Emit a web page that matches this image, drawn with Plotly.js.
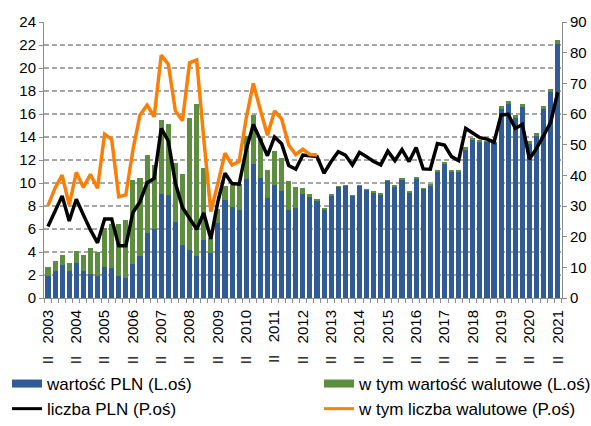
<!DOCTYPE html>
<html>
<head>
<meta charset="utf-8">
<script src="https://cdn.plot.ly/plotly-3.0.1.min.js"></script>
<style>html,body{margin:0;padding:0;background:#fff;}#chart{width:591px;height:426px;}</style>
</head>
<body>
<div id="chart"></div>
<script>
// Quarter categories: II 2003 ... II 2021
const years = [2003,2004,2005,2006,2007,2008,2009,2010,2011,2012,2013,2014,2015,2016,2017,2018,2019,2020,2021];
const quarterNames = ['I','II','III','IV'];
const quarters = [];
years.forEach(function(y){ quarterNames.forEach(function(q, qi){
  if ((y === 2003 && qi < 1) || (y === 2021 && qi > 1)) return;
  quarters.push(q + ' ' + y);
});});

// wartość PLN (L.oś)
const wartoscPLN = [1.91,2.38,2.90,2.38,3.07,2.38,2.12,1.94,2.72,2.58,1.92,1.72,2.99,3.62,5.68,6.03,
  9.04,8.99,6.60,4.57,4.17,3.62,5.06,3.89,6.50,8.55,7.88,7.62,10.31,11.61,10.44,8.72,9.80,9.33,7.65,7.85,
  9.04,8.81,8.43,7.68,8.87,9.62,9.74,8.90,9.71,9.36,9.16,8.99,10.17,9.62,10.29,9.16,10.38,9.45,9.74,
  10.99,11.68,10.96,10.93,12.90,13.74,13.57,13.57,13.48,16.43,16.84,15.65,16.64,13.42,14.12,16.40,17.94,22.12];
// w tym wartość walutowe (L.oś)
const wartoscWalutowe = [0.76,0.87,0.87,0.66,1.05,1.36,2.20,2.06,3.34,3.87,4.48,5.06,7.27,6.81,6.72,5.57,
  6.46,6.14,5.17,6.24,11.51,13.25,6.27,1.30,1.20,1.15,1.97,2.28,3.75,4.32,3.46,2.38,2.98,2.81,2.52,1.83,
  0.56,0.23,0.17,0.15,0.14,0.12,0.12,0.09,0.08,0.12,0.14,0.11,0.12,0.18,0.14,0.14,0.14,0.12,0.17,
  0.17,0.18,0.14,0.17,0.20,0.20,0.17,0.11,0.12,0.27,0.26,0.26,0.20,0.23,0.23,0.27,0.23,0.34];
// liczba PLN (P.oś)
const liczbaPLN = [23.3,28.2,33.3,25.1,32.2,27.1,22.2,18.0,25.8,25.8,17.0,17.0,27.9,31.4,37.6,39.0,
  55.3,51.2,37.4,29.5,25.9,22.4,27.7,19.3,31.4,40.7,37.3,37.1,48.4,56.6,51.5,46.4,52.5,50.3,43.2,42.0,
  46.6,46.4,46.1,40.7,44.5,47.7,46.6,43.4,47.5,46.1,44.5,43.4,47.9,44.8,48.4,44.5,49.1,42.1,42.0,
  50.4,49.9,46.1,44.8,55.3,53.7,52.3,51.8,50.8,59.7,59.9,55.3,56.6,45.3,48.8,52.9,57.3,67.1];
// w tym liczba walutowe (P.oś) - ends in IV 2012
const liczbaWalutowe = [30.1,35.8,40.1,30.3,41.0,36.1,40.3,35.8,53.4,51.7,33.0,33.6,48.3,59.7,62.9,59.1,
  79.2,76.2,61.0,57.8,76.7,77.6,52.1,28.2,37.4,47.2,43.4,44.5,58.6,70.0,61.3,53.1,61.0,58.4,49.9,46.8,
  48.5,46.8,46.6];

const tickText = quarters.map(function(q){ return q.indexOf('II ') === 0 ? q.replace(' ', '\u00A0\u00A0\u00A0') : ''; });

const cBlue = '#305B94', cGreen = '#5D8E3F', cBlack = '#000000', cOrange = '#FA7F08';
const fnt = 'Liberation Sans, Arial, sans-serif';

const traces = [
  {type:'bar', x:quarters, y:wartoscPLN, name:'wartość PLN (L.oś)', marker:{color:cBlue, line:{width:0}}, showlegend:false},
  {type:'bar', x:quarters, y:wartoscWalutowe, name:'w tym wartość walutowe (L.oś)', marker:{color:cGreen, line:{width:0}}, showlegend:false},
  {type:'scatter', mode:'lines', x:quarters, y:liczbaPLN, yaxis:'y2', name:'liczba PLN (P.oś)', line:{color:cBlack, width:3.5}, showlegend:false},
  {type:'scatter', mode:'lines', x:quarters.slice(0, liczbaWalutowe.length), y:liczbaWalutowe, yaxis:'y2', name:'w tym liczba walutowe (P.oś)', line:{color:cOrange, width:3.5}, showlegend:false},
  // legend entries
  {type:'scatter', mode:'lines', x:[quarters[0]], y:[null], name:'wartość PLN (L.oś)', line:{color:cBlue, width:8}, legend:'legend', hoverinfo:'skip'},
  {type:'scatter', mode:'lines', x:[quarters[0]], y:[null], name:'liczba PLN (P.oś)', line:{color:cBlack, width:3}, legend:'legend', hoverinfo:'skip'},
  {type:'scatter', mode:'lines', x:[quarters[0]], y:[null], name:'w tym wartość walutowe (L.oś)', line:{color:cGreen, width:8}, legend:'legend2', hoverinfo:'skip'},
  {type:'scatter', mode:'lines', x:[quarters[0]], y:[null], name:'w tym liczba walutowe (P.oś)', line:{color:cOrange, width:3}, legend:'legend2', hoverinfo:'skip'}
];

const axisCol = '#8C8C8C';
const layout = {
  width:591, height:426,
  margin:{l:44, r:29, t:22, b:128, autoexpand:false},
  paper_bgcolor:'#fff', plot_bgcolor:'#fff',
  barmode:'stack', bargap:0.28,
  font:{family:fnt, size:15, color:'#000'},
  xaxis:{type:'category', range:[-0.56, 72.6], tickmode:'array', tickvals:quarters, ticktext:tickText,
    tickson:'boundaries', ticks:'outside', ticklen:4, tickcolor:axisCol, tickangle:-90, ticklabelstandoff:5,
    showline:true, linecolor:axisCol, linewidth:1, showgrid:false, zeroline:false, automargin:false,
    tickfont:{family:fnt, size:15}},
  yaxis:{range:[0,24], dtick:2, ticks:'outside', ticklen:4, tickcolor:axisCol, showline:true, linecolor:axisCol,
    showgrid:true, gridcolor:'#A6A6A6', gridwidth:1.2, griddash:'5px,3px', zeroline:false, automargin:false,
    tickfont:{family:fnt, size:15}},
  yaxis2:{overlaying:'y', side:'right', range:[0,90], dtick:10, ticks:'outside', ticklen:4, tickcolor:axisCol,
    showline:true, linecolor:axisCol, showgrid:false, zeroline:false, automargin:false, tickfont:{family:fnt, size:15}},
  legend:{xref:'container', yref:'container', x:7/591, y:1-366/426, xanchor:'left', yanchor:'top',
    orientation:'v', traceorder:'normal', bgcolor:'rgba(0,0,0,0)', font:{family:fnt, size:17}, itemwidth:30},
  legend2:{xref:'container', yref:'container', x:319/591, y:1-366/426, xanchor:'left', yanchor:'top',
    orientation:'v', traceorder:'normal', bgcolor:'rgba(0,0,0,0)', font:{family:fnt, size:17}, itemwidth:30},
  showlegend:true
};

Plotly.newPlot('chart', traces, layout, {staticPlot:true, displayModeBar:false});
</script>
</body>
</html>
